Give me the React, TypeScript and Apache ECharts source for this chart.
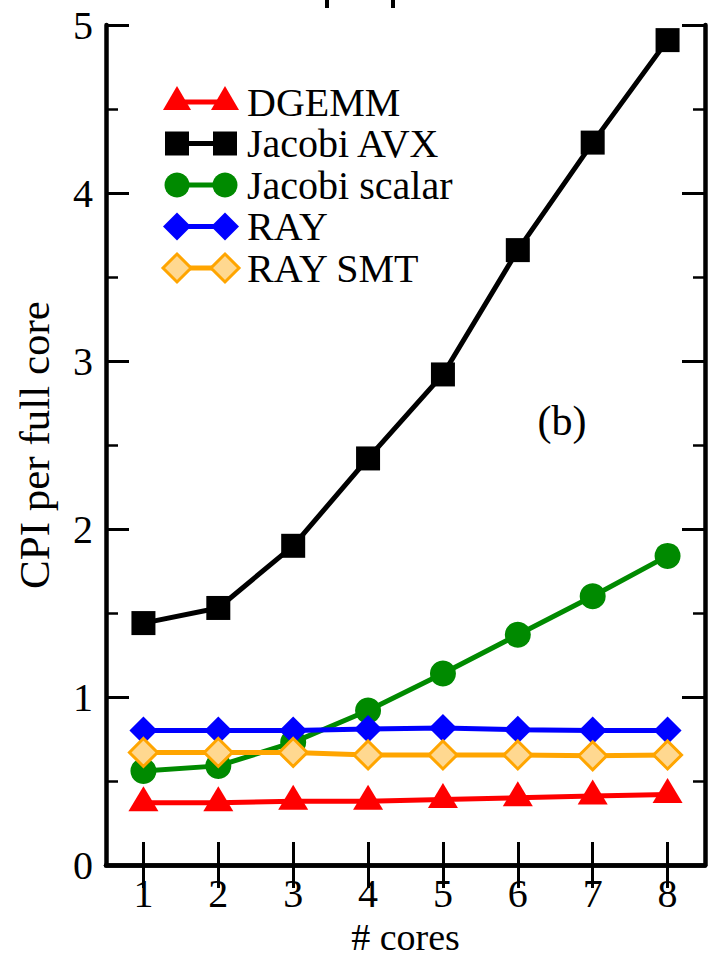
import React, { useEffect, useRef } from "react";
import * as echarts from "echarts";

const cores = ["1", "2", "3", "4", "5", "6", "7", "8"];
const dgemm = [0.37, 0.37, 0.38, 0.38, 0.39, 0.4, 0.41, 0.42];
const jacobiAVX = [1.44, 1.53, 1.9, 2.42, 2.92, 3.66, 4.3, 4.91];
const jacobiScalar = [0.56, 0.59, 0.73, 0.92, 1.14, 1.37, 1.6, 1.84];
const ray = [0.8, 0.8, 0.8, 0.81, 0.815, 0.805, 0.8, 0.8];
const raySMT = [0.67, 0.67, 0.67, 0.655, 0.655, 0.655, 0.65, 0.655];
const legendNames = ["DGEMM", "Jacobi AVX", "Jacobi scalar", "RAY", "RAY SMT"];
const yLabel = "CPI per full core";
const xLabel = "# cores";
const panelLabel = "(b)";

const FONT = '"Liberation Serif", "Times New Roman", serif';

const styles = [
  { color: "#ff0000", fill: "#ff0000", symbol: "triangle" },
  { color: "#000000", fill: "#000000", symbol: "rect" },
  { color: "#008a00", fill: "#008a00", symbol: "circle" },
  { color: "#0000ff", fill: "#0000ff", symbol: "diamond" },
  { color: "#ffa500", fill: "#ffd890", symbol: "diamond" },
];

function legendSymbol(kind: string, cx: number, cy: number, fill: string, stroke: string) {
  if (kind === "triangle") {
    const w = 28, h = 24;
    return {
      type: "polygon",
      shape: { points: [[cx, cy - (h * 2) / 3], [cx - w / 2, cy + h / 3], [cx + w / 2, cy + h / 3]] },
      style: { fill },
    };
  }
  if (kind === "rect") {
    return { type: "rect", shape: { x: cx - 12, y: cy - 12, width: 24, height: 24 }, style: { fill } };
  }
  if (kind === "circle") {
    return { type: "circle", shape: { cx, cy, r: 12.5 }, style: { fill } };
  }
  const w = 14, h = 14;
  return {
    type: "polygon",
    shape: { points: [[cx, cy - h], [cx + w, cy], [cx, cy + h], [cx - w, cy]] },
    style: stroke !== fill ? { fill, stroke, lineWidth: 3 } : { fill },
  };
}

export default function App() {
  const ref = useRef<HTMLDivElement>(null);
  useEffect(() => {
    if (!ref.current) return;
    const chart = echarts.init(ref.current, null, { renderer: "svg" });
    const seriesData = [dgemm, jacobiAVX, jacobiScalar, ray, raySMT];

    const series = seriesData.map((d, i) => {
      const s = styles[i];
      const isSMT = i === 4;
      return {
        name: legendNames[i],
        type: "line",
        data: d,
        xAxisIndex: 0,
        yAxisIndex: 0,
        symbol: s.symbol,
        symbolSize: s.symbol === "triangle" ? [30, 25] : s.symbol === "rect" ? 24 : s.symbol === "circle" ? 26 : 28,
        symbolOffset: s.symbol === "triangle" ? [0, -4] : [0, 0],
        showSymbol: true,
        lineStyle: { color: s.color, width: 5 },
        itemStyle: isSMT
          ? { color: s.fill, borderColor: s.color, borderWidth: 3 }
          : { color: s.fill, borderWidth: 0 },
        emphasis: { disabled: true },
        z: 2 + i,
      };
    });

    const legendEls: any[] = [];
    const legendY0 = 102;
    const legendStep = 41.5;
    legendNames.forEach((name, i) => {
      const y = legendY0 + i * legendStep;
      const s = styles[i];
      legendEls.push({
        type: "line",
        shape: { x1: 177, y1: y, x2: 225, y2: y },
        style: { stroke: s.color, lineWidth: 5 },
      });
      legendEls.push(legendSymbol(s.symbol, 177, y, s.fill, s.color));
      legendEls.push(legendSymbol(s.symbol, 225, y, s.fill, s.color));
      legendEls.push({
        type: "text",
        x: 247,
        y: y,
        style: { text: name, fontFamily: FONT, fontSize: 40, fill: "#000", verticalAlign: "middle", align: "left" },
      });
    });

    const axisFont = { fontFamily: FONT, fontSize: 40, color: "#000" };
    const lineAxis = { show: true, lineStyle: { color: "#000", width: 4.5 } };

    const yBase = { type: "value", min: 0, max: 5, splitLine: { show: false } };

    chart.setOption({
      animation: false,
      backgroundColor: "#ffffff",
      grid: { left: 106, right: 4, top: 25, bottom: 89, containLabel: false, outerBoundsMode: "none" },
      xAxis: [
        {
          type: "category",
          data: cores,
          position: "bottom",
          boundaryGap: true,
          axisLine: lineAxis,
          axisTick: { show: true, inside: true, alignWithLabel: true, interval: 0, length: 23, lineStyle: { color: "#000", width: 3 } },
          axisLabel: { ...axisFont, margin: 8, interval: 0 },
          splitLine: { show: false },
          name: xLabel,
          nameLocation: "middle",
          nameGap: 39,
          nameTextStyle: { fontFamily: FONT, fontSize: 38, color: "#000" },
        },
        {
          type: "category",
          data: cores,
          position: "top",
          boundaryGap: true,
          axisLine: lineAxis,
          axisTick: { show: true, inside: true, alignWithLabel: true, interval: 0, length: 23, lineStyle: { color: "#000", width: 3 } },
          axisLabel: { show: false },
          splitLine: { show: false },
        },
      ],
      yAxis: [
        {
          ...yBase,
          interval: 1,
          position: "left",
          axisLine: lineAxis,
          axisTick: { show: true, inside: true, length: 23, lineStyle: { color: "#000", width: 3 } },
          axisLabel: { ...axisFont, margin: 13 },
          name: yLabel,
          nameLocation: "middle",
          nameGap: 50,
          nameRotate: 90,
          nameTextStyle: { fontFamily: FONT, fontSize: 43, color: "#000" },
        },
        {
          ...yBase,
          interval: 1,
          position: "right",
          axisLine: lineAxis,
          axisTick: { show: true, inside: true, length: 23, lineStyle: { color: "#000", width: 3 } },
          axisLabel: { show: false },
        },
        {
          ...yBase,
          interval: 0.5,
          position: "left",
          axisLine: { show: false },
          axisTick: { show: true, inside: true, length: 12, lineStyle: { color: "#000", width: 2.5 } },
          axisLabel: { show: false },
        },
        {
          ...yBase,
          interval: 0.5,
          position: "right",
          axisLine: { show: false },
          axisTick: { show: true, inside: true, length: 12, lineStyle: { color: "#000", width: 2.5 } },
          axisLabel: { show: false },
        },
      ],
      series,
      graphic: [
        { type: "group", children: legendEls },
        {
          type: "text",
          x: 562,
          y: 421,
          style: { text: panelLabel, fontFamily: FONT, fontSize: 42, fill: "#000", align: "center", verticalAlign: "middle" },
        },
        { type: "rect", shape: { x: 325, y: 0, width: 4, height: 8 }, style: { fill: "#000" } },
        { type: "rect", shape: { x: 391, y: 0, width: 4, height: 8 }, style: { fill: "#000" } },
      ],
    });
    return () => chart.dispose();
  }, []);

  return (
    <div
      ref={ref}
      style={{ position: "fixed", left: 0, top: 0, width: 709, height: 954, background: "#fff" }}
    />
  );
}
